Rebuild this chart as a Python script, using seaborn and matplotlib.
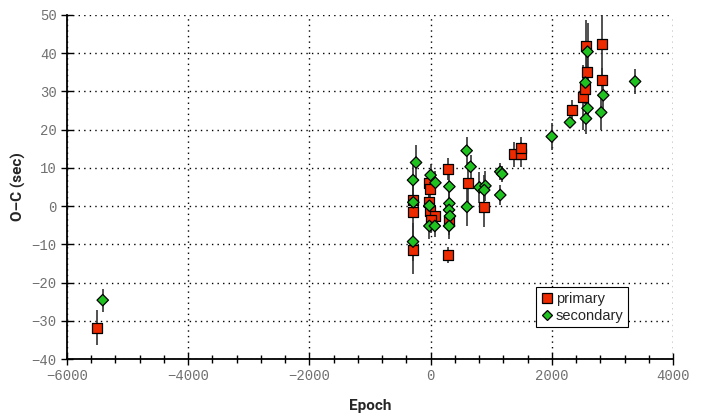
import pandas as pd
import matplotlib
matplotlib.use('Agg')
import matplotlib.pyplot as plt
from matplotlib.ticker import MultipleLocator
import seaborn as sns

# primary minima: epoch, O-C (sec), error
prim_epoch = [-5505, -290, -290, -290, -30, -10, -30, -10, 80, 0,
              290, 300, 290, 610, 880, 1370, 1495, 1500, 2340, 2520,
              2555, 2575, 2565, 2825, 2825]
prim_oc = [-31.8, 1.5, -1.5, -11.5, 6.0, 4.4, 1.2, -1.3, -2.6, -3.6,
           9.7, -4.0, -12.8, 6.0, -0.2, 13.6, 13.6, 15.3, 25.2, 28.5,
           30.6, 35.2, 41.9, 42.5, 33.0]
prim_err = [4.5, 4.5, 4.0, 6.3, 3.0, 3.5, 3.0, 3.5, 3.0, 3.5,
            3.0, 3.5, 2.0, 5.5, 5.2, 3.3, 3.3, 2.8, 2.6, 8.5,
            4.0, 6.0, 6.8, 8.4, 3.0]

# secondary minima
sec_epoch = [-5410, -240, -290, -285, -290, 0, 80, -20, -20, 70,
             310, 310, 305, 320, 305, 595, 660, 600, 805, 905,
             885, 1150, 1180, 1150, 2000, 2300, 2555, 2590, 2590, 2565,
             2850, 2815, 3375]
sec_oc = [-24.6, 11.4, 6.8, 1.0, -9.3, 8.1, 6.1, 0.1, -5.2, -5.2,
          5.1, 0.7, -1.0, -2.6, -5.2, 14.5, 10.3, -0.2, 4.9, 5.3,
          4.2, 9.0, 8.4, 2.9, 18.2, 21.9, 32.3, 40.4, 25.6, 22.9,
          29.0, 24.5, 32.6]
sec_err = [3.0, 4.6, 5.0, 4.0, 5.0, 3.0, 3.0, 3.5, 3.5, 3.0,
           3.0, 3.0, 3.0, 3.0, 3.5, 3.7, 3.0, 5.0, 4.0, 4.0,
           4.0, 2.2, 2.0, 2.6, 3.5, 1.5, 4.0, 7.4, 3.5, 4.0,
           5.0, 4.6, 3.2]

df = pd.concat([
    pd.DataFrame({'Epoch': prim_epoch, 'O-C': prim_oc, 'err': prim_err, 'type': 'primary'}),
    pd.DataFrame({'Epoch': sec_epoch, 'O-C': sec_oc, 'err': sec_err, 'type': 'secondary'}),
], ignore_index=True)

sns.set_style('ticks')
plt.rcParams['font.family'] = ['Liberation Sans', 'DejaVu Sans']

fig = plt.figure(figsize=(7.05, 4.16), dpi=100)
ax = fig.add_axes([0.095, 0.137, 0.8596, 0.827])

# error bars behind the markers
ax.errorbar(df['Epoch'], df['O-C'], yerr=df['err'], fmt='none',
            ecolor='#333333', elinewidth=1.2, capsize=0, zorder=2)

sns.scatterplot(data=df, x='Epoch', y='O-C', hue='type', style='type', size='type',
                markers={'primary': 's', 'secondary': 'D'},
                palette={'primary': '#ee2a00', 'secondary': '#1fc21f'},
                sizes={'primary': 52, 'secondary': 34},
                edgecolor='black', linewidth=0.9, zorder=3, ax=ax)

ax.set_xlim(-6000, 4000)
ax.set_ylim(-40, 50)
ax.xaxis.set_major_locator(MultipleLocator(2000))
ax.xaxis.set_minor_locator(MultipleLocator(400))
ax.yaxis.set_major_locator(MultipleLocator(10))

ax.grid(True, which='major', color='black', linestyle=(0, (1, 3)), linewidth=1)
ax.set_axisbelow(True)
for s in ['top', 'right']:
    ax.spines[s].set_visible(False)
for s in ['left', 'bottom']:
    ax.spines[s].set_linewidth(1.3)
    ax.spines[s].set_color('black')

ax.tick_params(which='major', direction='inout', length=8, width=1, colors='black',
               labelcolor='#707070', labelsize=10)
ax.tick_params(which='minor', direction='inout', length=6, width=1, colors='black')
ax.set_xticks(ax.get_xticks())
ax.set_yticks(ax.get_yticks())
ax.set_xticklabels([f'{int(t)}'.replace('-', '\u2212') for t in ax.get_xticks()], family='Liberation Mono')
ax.set_yticklabels([f'{int(t)}'.replace('-', '\u2212') for t in ax.get_yticks()], family='Liberation Mono')
ax.set_xlim(-6000, 4000)
ax.set_ylim(-40, 50)

ax.set_xlabel('Epoch', family='Roboto', fontweight='bold', fontsize=11, labelpad=11)
ax.set_ylabel('O\u2013C (sec)', family='Roboto', fontweight='bold', fontsize=11, labelpad=4)

leg = ax.legend(loc='lower right', bbox_to_anchor=(0.926, 0.093), borderaxespad=0,
                fancybox=False, framealpha=1, edgecolor='black', fontsize=10.5,
                handletextpad=0.2, handlelength=0.9, borderpad=0.3,
                labelspacing=0.2, markerscale=0.9)
leg.get_frame().set_linewidth(0.8)
leg.set_title(None)

fig.savefig('out.png', dpi=100)
